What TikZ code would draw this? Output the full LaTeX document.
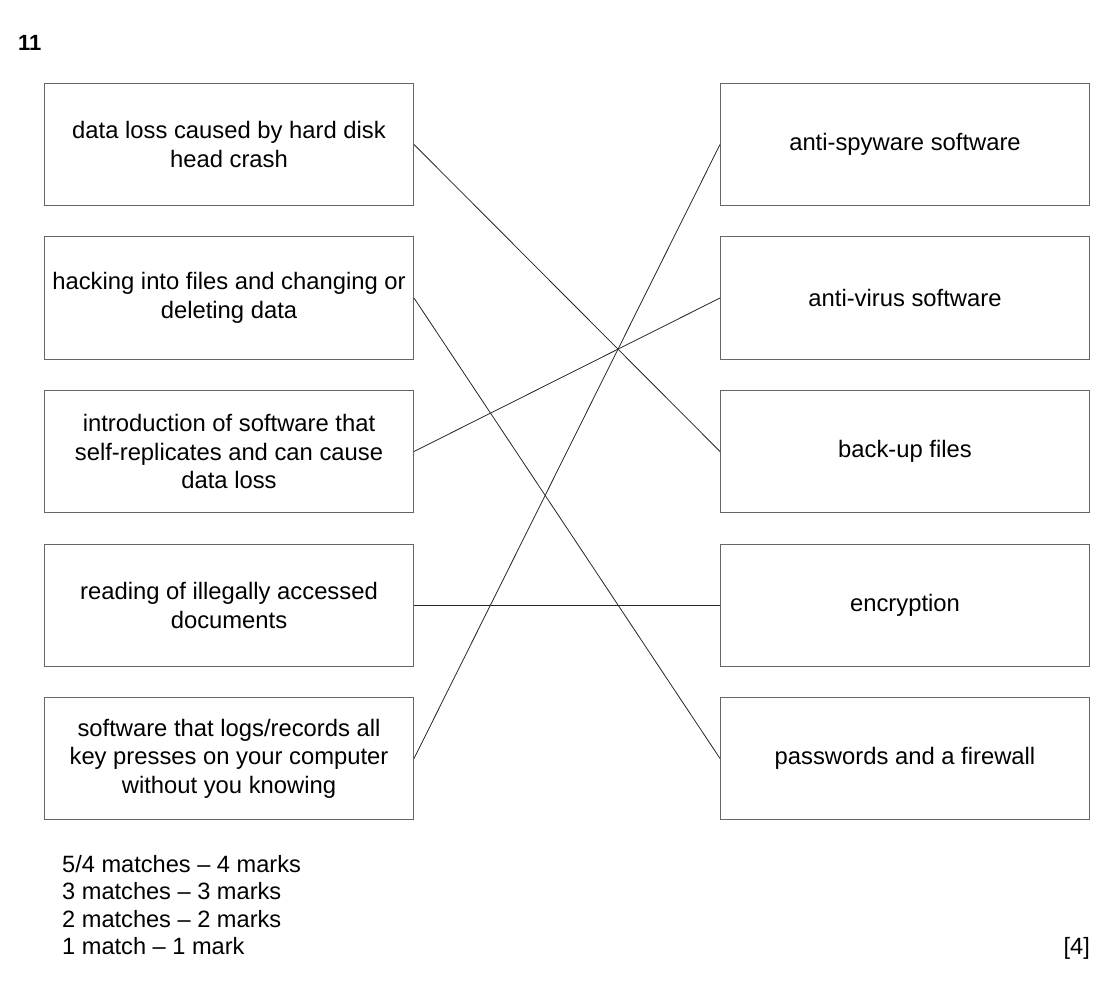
\documentclass[tikz,border=0pt]{standalone}
\usepackage{fontspec}
\setmainfont{Liberation Sans}
\usepackage{tikz}
\usetikzlibrary{positioning}

\begin{document}
\begin{tikzpicture}[
    x=1pt, y=-1pt,
    font=\fontsize{23.8}{28.4}\selectfont,
    matchbox/.style={draw=black!60, line width=1pt, minimum width=369pt, minimum height=122.5pt, inner sep=2pt, align=center},
    matchline/.style={line width=0.8pt, black!85},
    markline/.style={anchor=base west, inner sep=0pt, font=\fontsize{23.6}{26.4}\selectfont}
]

% Page frame (reference size in px)
\useasboundingbox (0,0) rectangle (1118,984);

% Question number
\node [anchor=base west, inner sep=0pt, font=\fontsize{22}{26}\selectfont\bfseries] (qnum) at (18,51) {11};

% Left column: threats
\node [matchbox] (l1) at (229,144.5) {data loss caused by hard disk\\head crash};
\node [matchbox] (l2) at (229,298) {hacking into files and changing or\\deleting data};
\node [matchbox] (l3) at (229,451.5) {introduction of software that\\self-replicates and can cause\\data loss};
\node [matchbox] (l4) at (229,605.5) {reading of illegally accessed\\documents};
\node [matchbox] (l5) at (229,758.5) {software that logs/records all\\key presses on your computer\\without you knowing};

% Right column: measures
\node [matchbox] (r1) at (905,144.5) {anti-spyware software};
\node [matchbox] (r2) at (905,298) {anti-virus software};
\node [matchbox] (r3) at (905,451.5) {back-up files};
\node [matchbox] (r4) at (905,605.5) {encryption};
\node [matchbox] (r5) at (905,758.5) {passwords and a firewall};

% Matching lines
\foreach \a/\b in {1/3, 2/5, 3/2, 4/4, 5/1}
    \draw [matchline] (l\a.east) -- (r\b.west);

% Mark scheme
\node [markline] (m1) at (62,872) {5/4 matches -- 4 marks};
\node [markline] (m2) at (62,899.5) {3 matches -- 3 marks};
\node [markline] (m3) at (62,927) {2 matches -- 2 marks};
\node [markline] (m4) at (62,954.5) {1 match -- 1 mark};
\node [markline, anchor=base east] (total) at (1090,954.5) {[4]};

\end{tikzpicture}
\end{document}
